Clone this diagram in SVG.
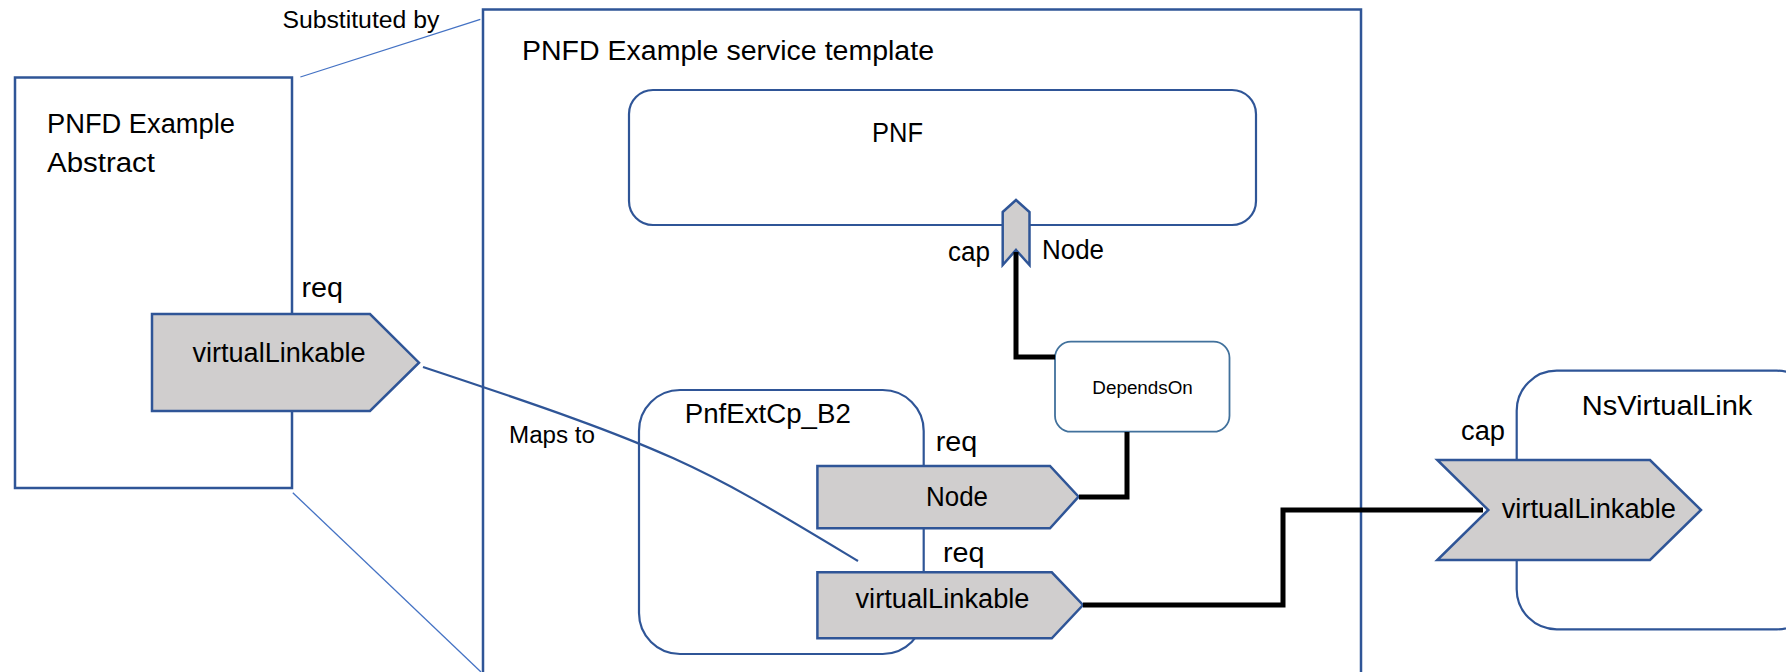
<svg xmlns="http://www.w3.org/2000/svg" width="1786" height="672" viewBox="0 0 1786 672">
<style>
text{font-family:"Liberation Sans",Arial,sans-serif;fill:#000}
.box{fill:#fff;stroke:#2F5597;stroke-width:2.5}
.rbox{fill:#fff;stroke:#2F5597;stroke-width:2.2}
.port{fill:#D0CECE;stroke:#2F5597;stroke-width:2.5;stroke-linejoin:miter}
.thin{fill:none;stroke:#4472C4;stroke-width:1.3}
.map{fill:none;stroke:#2F5597;stroke-width:2.2}
.conn{fill:none;stroke:#000;stroke-width:5}
.l{font-size:27px}
.s{font-size:23px}
</style>
<rect width="1786" height="672" fill="#fff"/>
<g id="service-template">
<rect class="box" x="483" y="9.5" width="878" height="700"/>
<text class="l" x="522" y="60" textLength="412" lengthAdjust="spacingAndGlyphs">PNFD Example service template</text>
</g>
<g id="pnfd-abstract">
<rect class="box" x="15" y="77.5" width="277" height="410.5"/>
<text class="l" x="47" y="133" textLength="188" lengthAdjust="spacingAndGlyphs">PNFD Example</text>
<text class="l" x="47" y="172" textLength="108" lengthAdjust="spacingAndGlyphs">Abstract</text>
<text class="l" x="301.5" y="297" textLength="41.5" lengthAdjust="spacingAndGlyphs">req</text>
<polygon class="port" points="152,314 370,314 419,362.7 370,411 152,411"/>
<text class="l" x="192.5" y="362" textLength="173" lengthAdjust="spacingAndGlyphs">virtualLinkable</text>
</g>
<g id="pnf">
<rect class="rbox" x="629" y="90" width="627" height="135" rx="24" ry="24"/>
<text class="l" x="872" y="142" textLength="51" lengthAdjust="spacingAndGlyphs">PNF</text>
<polygon class="port" points="1002.7,212 1016,200 1029.5,212 1029.5,265 1016,250 1002.7,265" stroke-width="2"/>
<text class="l" x="948" y="261" textLength="42" lengthAdjust="spacingAndGlyphs">cap</text>
<text class="l" x="1042" y="259" textLength="62" lengthAdjust="spacingAndGlyphs">Node</text>
</g>
<g id="dependson">
<rect x="1055" y="341.7" width="174.5" height="90" rx="16" ry="16" fill="#fff" stroke="#41719C" stroke-width="1.8"/>
<text x="1142.6" y="394" font-size="18.8px" text-anchor="middle" textLength="100.5" lengthAdjust="spacingAndGlyphs">DependsOn</text>
</g>
<g id="pnfextcp-b2">
<rect class="rbox" x="639" y="390" width="284.7" height="264" rx="41" ry="41"/>
<text class="l" x="684.8" y="423.3" textLength="166" lengthAdjust="spacingAndGlyphs">PnfExtCp_B2</text>
<text class="l" x="935.7" y="450.7" textLength="41.5" lengthAdjust="spacingAndGlyphs">req</text>
<polygon class="port" points="817.4,466 1050,466 1078.6,496.7 1050,528.3 817.4,528.3"/>
<text class="l" x="957" y="506" text-anchor="middle" textLength="62" lengthAdjust="spacingAndGlyphs">Node</text>
<text class="l" x="942.9" y="562.3" textLength="41.5" lengthAdjust="spacingAndGlyphs">req</text>
<polygon class="port" points="817.4,572.3 1051.8,572.3 1083,605 1051.8,638.3 817.4,638.3"/>
<text class="l" x="942.5" y="608.3" text-anchor="middle" textLength="174" lengthAdjust="spacingAndGlyphs">virtualLinkable</text>
</g>
<g id="nsvirtuallink">
<rect class="rbox" x="1516.7" y="370.7" width="300" height="258.6" rx="40" ry="40"/>
<text class="l" x="1581.7" y="415" textLength="170.7" lengthAdjust="spacingAndGlyphs">NsVirtualLink</text>
<text class="l" x="1461" y="440" textLength="44" lengthAdjust="spacingAndGlyphs">cap</text>
<polygon class="port" points="1437.3,460 1650,460 1701,510 1650,560 1437.3,560 1488.3,510"/>
<text class="l" x="1501.7" y="518.3" textLength="174.3" lengthAdjust="spacingAndGlyphs">virtualLinkable</text>
</g>
<g id="connectors">
<line class="thin" x1="300.4" y1="77" x2="480.3" y2="19.3"/>
<line class="thin" x1="292.8" y1="492.7" x2="481" y2="672"/>
<text class="s" x="282.4" y="28" textLength="157" lengthAdjust="spacingAndGlyphs">Substituted by</text>
<path class="map" d="M423,367 C680,452 700,466 858,561"/>
<text class="s" x="509" y="443.3" textLength="86" lengthAdjust="spacingAndGlyphs">Maps to</text>
<path class="conn" d="M1016,252 V357 H1055"/>
<path class="conn" d="M1127,432 V497 H1079"/>
<path class="conn" d="M1083,605 H1283 V510 H1483"/>
</g>
</svg>
